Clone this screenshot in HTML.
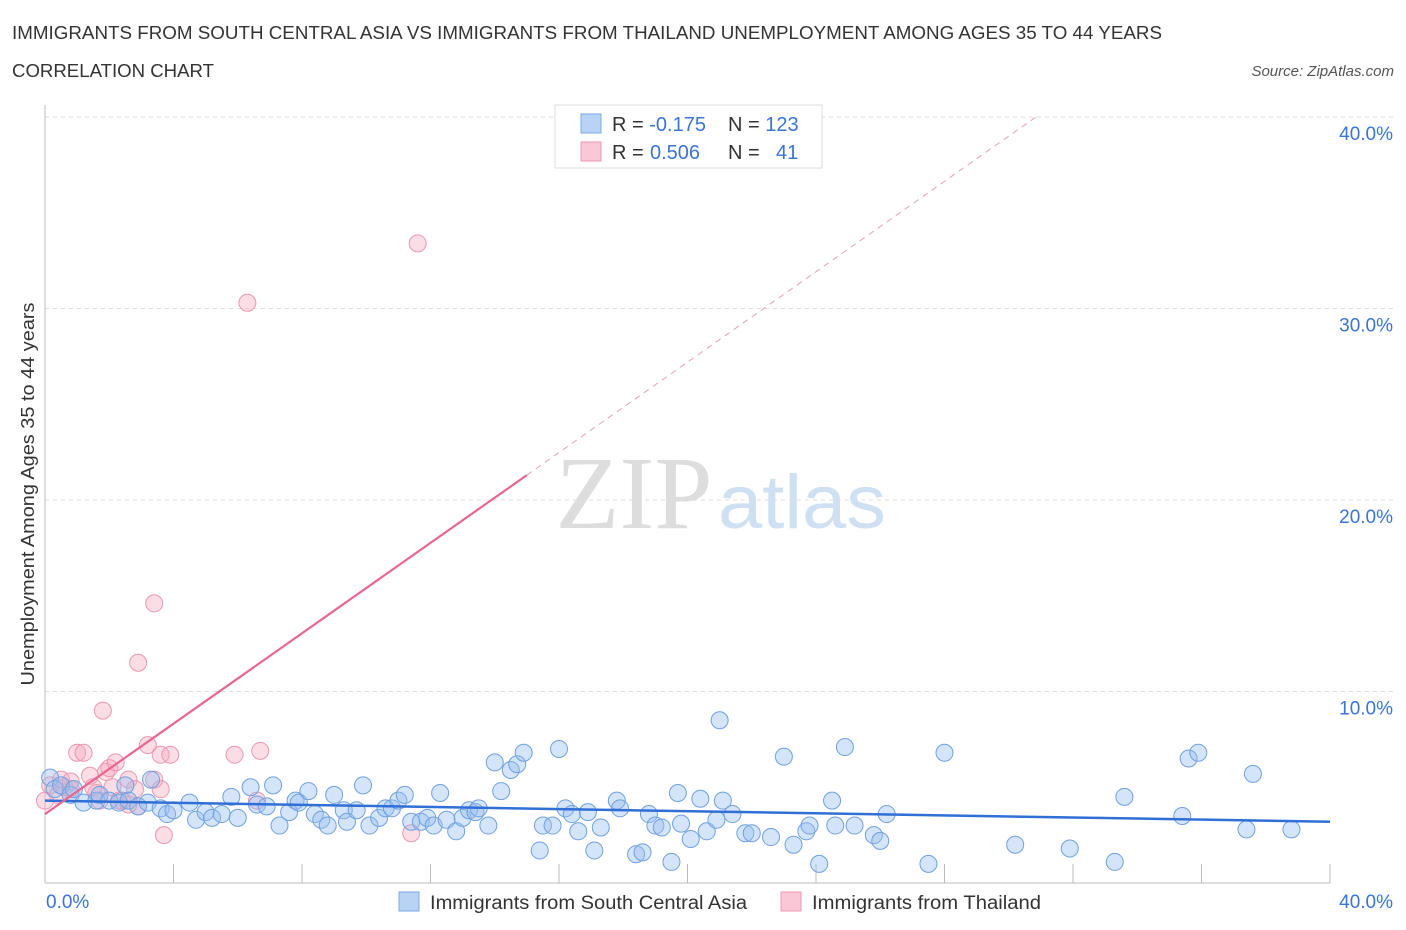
<!DOCTYPE html>
<html><head><meta charset="utf-8"><style>
body{margin:0;background:#fff;font-family:"Liberation Sans",sans-serif;}
#wrap{position:relative;width:1406px;height:930px;overflow:hidden}
</style></head><body>
<div id="wrap">
<svg id="svg" width="1406" height="930" xmlns="http://www.w3.org/2000/svg">
<text x="12" y="39" font-size="18" fill="#333" textLength="1150" lengthAdjust="spacingAndGlyphs">IMMIGRANTS FROM SOUTH CENTRAL ASIA VS IMMIGRANTS FROM THAILAND UNEMPLOYMENT AMONG AGES 35 TO 44 YEARS</text>
<text x="12" y="77" font-size="18" fill="#333" textLength="202" lengthAdjust="spacingAndGlyphs">CORRELATION CHART</text>
<text x="1394" y="76" font-size="15" fill="#555" font-style="italic" text-anchor="end">Source: ZipAtlas.com</text>
<text x="634" y="528" font-size="104" fill="#ddd" font-family="Liberation Serif,serif" text-anchor="middle" textLength="157" lengthAdjust="spacingAndGlyphs">ZIP</text>
<text x="802" y="528" font-size="76" fill="#cfe0f3" text-anchor="middle" textLength="168" lengthAdjust="spacingAndGlyphs">atlas</text>
<text transform="translate(34,494) rotate(-90)" font-size="18" fill="#333" text-anchor="middle" textLength="383" lengthAdjust="spacingAndGlyphs">Unemployment Among Ages 35 to 44 years</text>
<g id="grid"></g><g id="marks"></g>
<g>
<rect x="555" y="105" width="267" height="63" fill="#fff" stroke="#ddd"/>
<rect x="581" y="114" width="20" height="19" fill="#b9d3f5" stroke="#7aa8e6"/>
<rect x="581" y="142" width="20" height="19" fill="#f9c7d5" stroke="#ec9ab2"/>
<text x="612" y="131" font-size="20" fill="#333">R = <tspan fill="#3a74d6">-0.175</tspan></text>
<text x="728" y="131" font-size="20" fill="#333">N = <tspan fill="#3a74d6">123</tspan></text>
<text x="612" y="159" font-size="20" fill="#333">R = <tspan fill="#3a74d6" x="650">0.506</tspan></text>
<text x="728" y="159" font-size="20" fill="#333">N = <tspan fill="#3a74d6" x="776">41</tspan></text>
</g>
<g>
<rect x="399" y="892" width="20" height="19" fill="#b9d3f5" stroke="#7aa8e6"/>
<text x="430" y="909" font-size="19" fill="#333" textLength="317" lengthAdjust="spacingAndGlyphs">Immigrants from South Central Asia</text>
<rect x="781" y="892" width="20" height="19" fill="#f9c7d5" stroke="#ec9ab2"/>
<text x="812" y="909" font-size="19" fill="#333" textLength="229" lengthAdjust="spacingAndGlyphs">Immigrants from Thailand</text>
</g>
</svg>
</div>
<script>
const xTickLabels=["0.0%","40.0%"];
const yTickValues=[10,20,30,40];
const yTickLabels=["10.0%","20.0%","30.0%","40.0%"];
const blueX=[0.16,0.3,0.5,0.8,0.9,1.2,1.6,1.7,2.0,2.3,2.5,2.6,2.9,3.2,3.3,3.6,3.8,4.0,4.5,4.7,5.0,5.2,5.5,6.0,5.8,6.4,6.6,6.9,7.1,7.3,7.6,7.8,7.9,8.2,8.4,8.6,8.8,9.0,9.3,9.4,9.7,9.9,10.1,10.4,10.6,10.8,11.0,11.2,11.4,11.7,11.9,12.1,12.3,12.5,12.8,13.0,13.2,13.4,13.5,13.8,14.0,14.2,14.5,14.7,14.9,15.4,15.5,15.8,16.0,16.2,16.4,16.6,16.9,17.1,17.3,17.8,17.9,18.4,18.6,18.8,19.0,19.2,19.5,19.7,19.8,20.1,20.4,20.6,20.9,21.0,21.1,21.4,21.8,22.0,22.6,23.0,23.3,23.7,23.8,24.1,24.5,24.6,24.9,25.2,25.8,26.0,26.2,27.5,28.0,30.2,31.9,33.3,33.6,35.4,35.6,35.9,37.6,37.4,38.8];
const blueY=[5.5,4.9,5.1,4.6,4.9,4.2,4.3,4.6,4.3,4.2,5.1,4.3,4.0,4.2,5.4,3.9,3.6,3.8,4.2,3.3,3.7,3.4,3.6,3.4,4.5,5.0,4.1,4.0,5.1,3.0,3.7,4.3,4.2,4.8,3.6,3.3,3.0,4.6,3.8,3.2,3.8,5.1,3.0,3.4,3.9,3.9,4.3,4.6,3.2,3.2,3.4,3.0,4.7,3.3,2.7,3.4,3.8,3.7,3.9,3.0,6.3,4.8,5.9,6.2,6.8,1.7,3.0,3.0,7.0,3.9,3.6,2.7,3.7,1.7,2.9,4.3,3.9,1.5,1.6,3.6,3.0,2.9,1.1,4.7,3.1,2.3,4.4,2.7,3.3,8.5,4.3,3.6,2.6,2.6,2.4,6.6,2.0,2.7,3.0,1.0,4.3,3.0,7.1,3.0,2.5,2.2,3.6,1.0,6.8,2.0,1.8,1.1,4.5,3.5,6.5,6.8,5.7,2.8,2.8];
const pinkX=[0.16,0.4,0.6,0.8,1.0,1.2,1.4,1.6,1.9,2.0,2.2,2.4,2.6,2.8,2.9,3.2,3.4,3.6,3.6,3.9,3.7,2.9,3.4,1.8,6.3,11.6,5.9,6.7,6.6,11.4,0.5,0.0,1.5,2.3,2.6,1.7,0.8,2.1];
const pinkY=[5.1,4.6,5.0,4.9,6.8,6.8,5.6,4.7,5.8,6.0,6.3,4.3,5.4,4.9,4.0,7.2,5.4,4.9,6.7,6.7,2.5,11.5,14.6,9.0,30.3,33.4,6.7,6.9,4.3,2.6,5.4,4.3,5.0,4.3,4.1,4.3,5.3,5.0];
const blueTrend=[4.3,-0.0275];   // intercept, slope
const pinkTrend=[3.6,1.18];
const NS="http://www.w3.org/2000/svg";
const X0=45,X1=1330,Y0=883,Y1=117;
const sx=v=>X0+(v/40)*(X1-X0);
const sy=v=>Y0-(v/40)*(Y0-Y1);
function mk(tag,attrs,parent){const e=document.createElementNS(NS,tag);for(const k in attrs)e.setAttribute(k,attrs[k]);parent.appendChild(e);return e;}
const grid=document.getElementById('grid'),marks=document.getElementById('marks');
yTickValues.forEach((v,i)=>{
  const l=mk('line',{x1:X0,x2:1395,y1:sy(v),y2:sy(v),stroke:'#ddd','stroke-dasharray':'4,4'},grid);
  
  
  const t=mk('text',{x:1393,y:sy(v)+23,'font-size':19,fill:'#3a74d6','text-anchor':'end'},grid);
  t.textContent=yTickLabels[i];
  
  
});
const ax=mk('line',{x1:X0,x2:X0,y1:105,y2:Y0,stroke:'#bbb'},grid);


const bx=mk('line',{x1:X0,x2:X1,y1:Y0,y2:Y0,stroke:'#bbb'},grid);


for(let i=1;i<=10;i++){
  const tk=mk('line',{x1:sx(i*4),x2:sx(i*4),y1:Y0,y2:Y0-19,stroke:'#bbb'},grid);
  
  
}
[[0,'start',46],[40,'end',1393]].forEach((a,i)=>{
  const t=mk('text',{x:a[2],y:908,'font-size':19,fill:'#3a74d6','text-anchor':a[1]},grid);
  t.textContent=xTickLabels[i];
  
  
});
pinkX.forEach((x,i)=>{
  const c=mk('circle',{cx:sx(x),cy:sy(pinkY[i]),r:8.5,fill:'rgba(246,170,192,0.4)',stroke:'#eb97b0','stroke-width':1},marks);
  
  
});
blueX.forEach((x,i)=>{
  const c=mk('circle',{cx:sx(x),cy:sy(blueY[i]),r:8.5,fill:'rgba(150,190,240,0.4)',stroke:'#6ea0e2','stroke-width':1},marks);
  
  
});
const bl=mk('line',{x1:sx(0),y1:sy(blueTrend[0]),x2:sx(40),y2:sy(blueTrend[0]+40*blueTrend[1]),stroke:'#2f6fd6','stroke-width':2.5},marks);


const xe=15;
const pl=mk('line',{x1:sx(0),y1:sy(pinkTrend[0]),x2:sx(xe),y2:sy(pinkTrend[0]+xe*pinkTrend[1]),stroke:'#e8668f','stroke-width':2.2},marks);


const xm=(40-pinkTrend[0])/pinkTrend[1];
const pd=mk('line',{x1:sx(xe),y1:sy(pinkTrend[0]+xe*pinkTrend[1]),x2:sx(xm),y2:sy(40),stroke:'#eaa0b5','stroke-width':1,'stroke-dasharray':'6,5'},marks);


</script>
</body></html>
